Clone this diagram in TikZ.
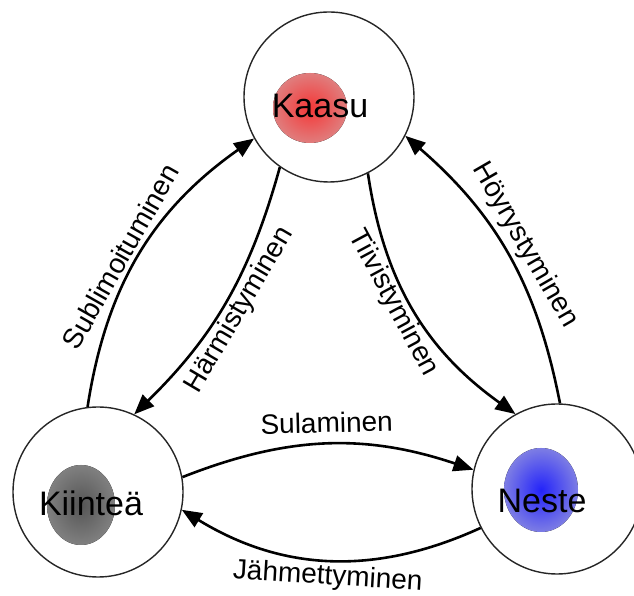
\documentclass[tikz,border=0pt]{standalone}
\usepackage{fontspec}
\setmainfont{Liberation Sans}
\usetikzlibrary{arrows.meta}
\definecolor{redin}{RGB}{245,55,55}
\definecolor{redout}{RGB}{224,125,125}
\definecolor{grayin}{RGB}{85,85,85}
\definecolor{grayout}{RGB}{128,128,128}
\definecolor{bluein}{RGB}{35,35,250}
\definecolor{blueout}{RGB}{125,125,228}
\begin{document}
\begin{tikzpicture}[x=1pt,y=1pt,
  phase/.style={circle, draw=black!85, line width=1.4pt, minimum size=170pt, inner sep=0pt},
  conn/.style={line width=2.6pt, -{Triangle[length=20pt,width=16pt]}},
  lbl/.style={font=\fontsize{28}{30}\selectfont, sloped, inner sep=2pt},
  statename/.style={font=\fontsize{34}{36}\selectfont, inner sep=0pt}]
\useasboundingbox (0,0) rectangle (634,596);
\node[phase] (ck) at (329,499) {};
\node[phase] (ci) at (98,104) {};
\node[phase] (cn) at (557,107) {};
\fill[inner color=redin, outer color=redout] (310,488) ellipse [x radius=37pt, y radius=35pt];
\fill[inner color=grayin, outer color=grayout] (81,91) ellipse [x radius=34pt, y radius=40pt];
\fill[inner color=bluein, outer color=blueout] (541,106) ellipse [x radius=37pt, y radius=42pt];
\node[statename] (tk) at (320,490) {Kaasu};
\node[statename] (ti) at (91,93) {Kiinteä};
\node[statename] (tn) at (542,95) {Neste};
\draw[conn] (ci.97) to[bend left=23] node[lbl, pos=0.46, above=2pt] {Sublimoituminen} (ck.209);
\draw[conn] (ck.235) to[bend left=15] node[lbl, pos=0.5, below=0pt] {Härmistyminen} (ci.65);
\draw[conn] (ck.297) to[bend right=23] node[lbl, pos=0.44, below=-2pt] {Tiivistyminen} (cn.119);
\draw[conn] (cn.88) to[bend right=19] node[lbl, pos=0.5, above=3pt] {Höyrystyminen} (ck.333);
\draw[conn] (ci.10) to[bend left=20] node[lbl, pos=0.5, above=8pt] {Sulaminen} (cn.167);
\draw[conn] (cn.207) to[bend left=28] node[lbl, pos=0.5, below=1pt] {Jähmettyminen} (ci.348);
\end{tikzpicture}
\end{document}
